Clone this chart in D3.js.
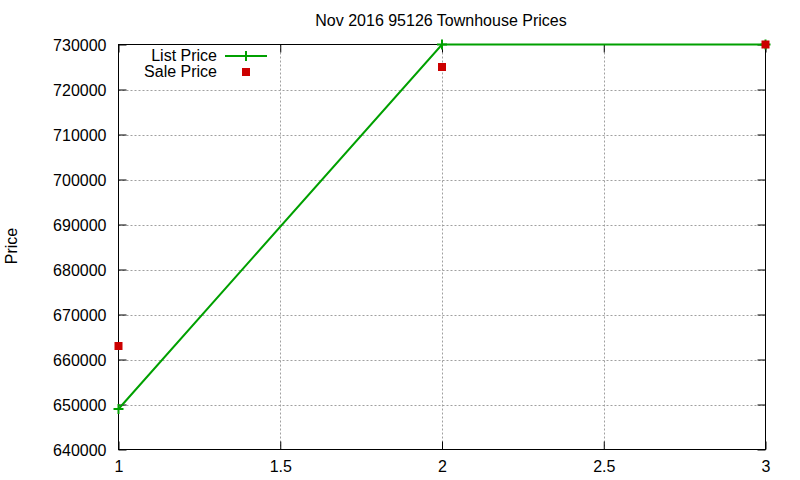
<!DOCTYPE html>
<html>
<head>
<meta charset="utf-8">
<script src="https://cdn.jsdelivr.net/npm/d3@7"></script>
<style>
body { margin: 0; background: #fff; }
text { font-family: "Liberation Sans", Arial, sans-serif; font-size: 16px; fill: #000; }
</style>
</head>
<body>
<div id="chart"></div>
<script>
// data
var xs = [1, 2, 3];
var listPrice = [649000, 730000, 730000];
var salePrice = [663000, 725000, 730000];
var xTicks = [1, 1.5, 2, 2.5, 3];
var yTicks = [640000, 650000, 660000, 670000, 680000, 690000, 700000, 710000, 720000, 730000];

var W = 800, H = 480;
var pLeft = 118.5, pRight = 765.5, pTop = 44.5, pBottom = 449.5;

var svg = d3.select("#chart").append("svg").attr("width", W).attr("height", H);

var x = d3.scaleLinear().domain([1, 3]).range([pLeft, pRight]);
var y = d3.scaleLinear().domain([640000, 730000]).range([pBottom, pTop]);

// grid
svg.append("g").selectAll("line")
    .data(xTicks.slice(1, -1)).enter()
    .append("line")
    .attr("x1", function(d){ return Math.round(x(d)) + 0.5; })
    .attr("x2", function(d){ return Math.round(x(d)) + 0.5; })
    .attr("y1", pTop).attr("y2", pBottom)
    .attr("stroke", "#a0a0a0").attr("stroke-dasharray", "2,2");
svg.append("g").selectAll("line")
    .data(yTicks.slice(1, -1)).enter()
    .append("line")
    .attr("y1", function(d){ return Math.round(y(d)) + 0.5; })
    .attr("y2", function(d){ return Math.round(y(d)) + 0.5; })
    .attr("x1", pLeft).attr("x2", pRight)
    .attr("stroke", "#a0a0a0").attr("stroke-dasharray", "2,2");

// axes, ticks pointing inward like gnuplot
var ax = svg.append("g").attr("transform", "translate(0," + pBottom + ")")
    .call(d3.axisBottom(x).tickValues(xTicks).tickSize(-8).tickPadding(11)
        .tickFormat(function(d){ return String(d); }));
var ay = svg.append("g").attr("transform", "translate(" + pLeft + ",0)")
    .call(d3.axisLeft(y).tickValues(yTicks).tickSize(-8).tickPadding(12).tickFormat(d3.format("d")));
var axTop = svg.append("g").attr("transform", "translate(0," + pTop + ")")
    .call(d3.axisTop(x).tickValues(xTicks).tickSize(-8).tickFormat(""));
var ayR = svg.append("g").attr("transform", "translate(" + pRight + ",0)")
    .call(d3.axisRight(y).tickValues(yTicks).tickSize(-8).tickFormat(""));
[ax, ay, axTop, ayR].forEach(function(g){
    g.select(".domain").remove();
    g.selectAll("line").attr("stroke", "#000");
    g.selectAll("text").style("font-family", "Liberation Sans, Arial, sans-serif").style("font-size", "16px").attr("fill", "#000");
});
ay.selectAll("text").attr("dy", "0.35em");

svg.append("rect")
    .attr("x", pLeft).attr("y", pTop)
    .attr("width", pRight - pLeft).attr("height", pBottom - pTop)
    .attr("fill", "none").attr("stroke", "#000");

// list price line
var listPts = xs.map(function(d, i){ return [d, listPrice[i]]; });
svg.append("path")
    .datum(listPts)
    .attr("d", d3.line().x(function(d){ return x(d[0]); }).y(function(d){ return y(d[1]); }))
    .attr("fill", "none").attr("stroke", "#00a000").attr("stroke-width", 2);

function plus(g, cx, cy) {
    g.append("path")
        .attr("d", "M" + (cx - 5) + "," + cy + "H" + (cx + 5) + "M" + cx + "," + (cy - 5) + "V" + (cy + 5))
        .attr("stroke", "#00a000").attr("stroke-width", 2).attr("fill", "none");
}
var pg = svg.append("g");
listPts.forEach(function(d){ plus(pg, x(d[0]), y(d[1])); });

// sale price squares
svg.append("g").selectAll("rect")
    .data(xs.map(function(d, i){ return [d, salePrice[i]]; })).enter()
    .append("rect")
    .attr("x", function(d){ return x(d[0]) - 4; })
    .attr("y", function(d){ return y(d[1]) - 4; })
    .attr("width", 8).attr("height", 8)
    .attr("fill", "#cc0000");

// legend
svg.append("text").attr("x", 217).attr("y", 61).attr("text-anchor", "end").text("List Price");
svg.append("line").attr("x1", 225).attr("x2", 267).attr("y1", 56).attr("y2", 56)
    .attr("stroke", "#00a000").attr("stroke-width", 2);
plus(svg, 246, 56);
svg.append("text").attr("x", 217).attr("y", 77).attr("text-anchor", "end").text("Sale Price");
svg.append("rect").attr("x", 242).attr("y", 68).attr("width", 8).attr("height", 8).attr("fill", "#cc0000");

// title and axis label
svg.append("text").attr("x", 441).attr("y", 26).attr("text-anchor", "middle")
    .text("Nov 2016 95126 Townhouse Prices");
svg.append("text").attr("transform", "translate(17,246) rotate(-90)").attr("text-anchor", "middle")
    .text("Price");
</script>
</body>
</html>
